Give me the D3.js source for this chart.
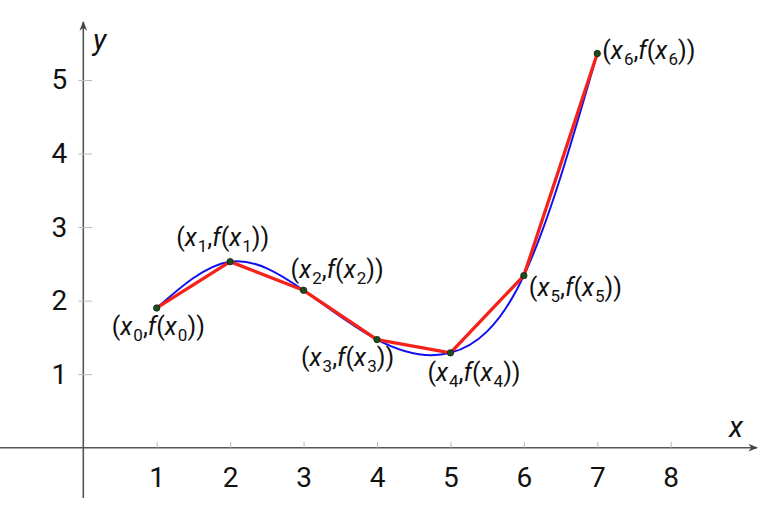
<!DOCTYPE html>
<html>
<head>
<meta charset="utf-8">
<script src="https://cdn.jsdelivr.net/npm/d3@7"></script>
<style>
  body { margin: 0; background: #fff; }
  text { font-family: Roboto, "Open Sans", sans-serif; fill: #111; }
</style>
</head>
<body>
<div id="chart"></div>
<script>
// data
var xs = [1, 2, 3, 4, 5, 6, 7]
var fx = [1.90, 2.53, 2.14, 1.47, 1.29, 2.34, 5.36]
var xTicks = [1, 2, 3, 4, 5, 6, 7, 8]
var yTicks = [1, 2, 3, 4, 5]

// where each point label sits, relative to the point (px)
var labelOffsets = [[-45, 27], [-54, -16], [-13, -12], [-76, 26], [-23, 28], [5, 20], [5, 5]]

var width = 783, height = 519

var x = d3.scaleLinear().domain([0, 8]).range([83.3, 670.7])
var y = d3.scaleLinear().domain([0, 5]).range([447.7, 80])

var points = xs.map(function(d, i) { return {x: d, y: fx[i], i: i} })

var svg = d3.select("#chart").append("svg")
    .attr("width", width)
    .attr("height", height)

var defs = svg.append("defs")
defs.append("marker")
    .attr("id", "arrow")
    .attr("viewBox", "0 0 10 10")
    .attr("refX", 9).attr("refY", 5)
    .attr("markerWidth", 6).attr("markerHeight", 6)
    .attr("orient", "auto")
    .append("path")
    .attr("d", "M0,1 L10,5 L0,9 L3,5 Z")
    .attr("fill", "#444")

/* axis lines with arrow heads */
svg.append("line")
    .attr("x1", 0).attr("x2", 757)
    .attr("y1", y(0)).attr("y2", y(0))
    .attr("stroke", "#555").attr("stroke-width", 1.6)
    .attr("marker-end", "url(#arrow)")

svg.append("line")
    .attr("x1", x(0)).attr("x2", x(0))
    .attr("y1", 498).attr("y2", 22)
    .attr("stroke", "#555").attr("stroke-width", 1.6)
    .attr("marker-end", "url(#arrow)")

var xAxis = d3.axisBottom(x)
    .tickValues(xTicks)
    .tickSize(-6)
    .tickPadding(19)
    .tickFormat(d3.format("d"))

var gx = svg.append("g")
    .attr("transform", "translate(0," + y(0) + ")")
    .call(xAxis)
gx.select(".domain").remove()
gx.selectAll(".tick line").attr("stroke", "#bbb").attr("stroke-width", 1)
gx.selectAll("text").style("font-size", "28px").attr("fill", "#111")

var yAxis = d3.axisLeft(y)
    .tickValues(yTicks)
    .tickSize(0)
    .tickPadding(16)
    .tickFormat(d3.format("d"))

var gy = svg.append("g")
    .attr("transform", "translate(" + x(0) + ",0)")
    .call(yAxis)
gy.select(".domain").remove()
gy.selectAll(".tick").append("line")
    .attr("x1", -5).attr("x2", 9)
    .attr("stroke", "#bbb").attr("stroke-width", 1)
gy.selectAll("text").style("font-size", "28px").attr("fill", "#111")

/* axis names */
svg.append("text")
    .attr("x", 93).attr("y", 50)
    .style("font-size", "29px").style("font-style", "italic")
    .text("y")
svg.append("text")
    .attr("x", 729).attr("y", 437)
    .style("font-size", "29px").style("font-style", "italic")
    .text("x")

/* smooth function through the nodes */
var smooth = d3.line()
    .x(function(d) { return x(d.x) })
    .y(function(d) { return y(d.y) })
    .curve(d3.curveNatural)

svg.append("path")
    .datum(points)
    .attr("d", smooth)
    .attr("fill", "none")
    .attr("stroke", "#1010ee")
    .attr("stroke-width", 2)

/* piecewise linear interpolation */
var linear = d3.line()
    .x(function(d) { return x(d.x) })
    .y(function(d) { return y(d.y) })

svg.append("path")
    .datum(points)
    .attr("d", linear)
    .attr("fill", "none")
    .attr("stroke", "#f5221a")
    .attr("stroke-width", 3.3)
    .attr("stroke-linejoin", "round")

svg.selectAll(".node")
    .data(points)
    .enter().append("circle")
    .attr("class", "node")
    .attr("cx", function(d) { return x(d.x) })
    .attr("cy", function(d) { return y(d.y) })
    .attr("r", 3.2)
    .attr("fill", "#1d4d1d")
    .attr("stroke", "#0d200d")
    .attr("stroke-width", 0.8)

/* labels (x_i, f(x_i)) */
var labels = svg.selectAll(".lbl")
    .data(points)
    .enter().append("text")
    .attr("class", "lbl")
    .attr("x", function(d) { return x(d.x) + labelOffsets[d.i][0] })
    .attr("y", function(d) { return y(d.y) + labelOffsets[d.i][1] })
    .style("font-size", "25px")

labels.each(function(d) {
    var t = d3.select(this)
    t.append("tspan").text("(")
    t.append("tspan").style("font-style", "italic").text("x")
    t.append("tspan").style("font-size", "17px").attr("dx", 1).attr("dy", 6).text(d.i)
    t.append("tspan").attr("dy", -6).text(",")
    t.append("tspan").style("font-style", "italic").text("f")
    t.append("tspan").text("(")
    t.append("tspan").style("font-style", "italic").text("x")
    t.append("tspan").style("font-size", "17px").attr("dx", 1).attr("dy", 6).text(d.i)
    t.append("tspan").attr("dy", -6).text("))")
})
</script>
</body>
</html>
